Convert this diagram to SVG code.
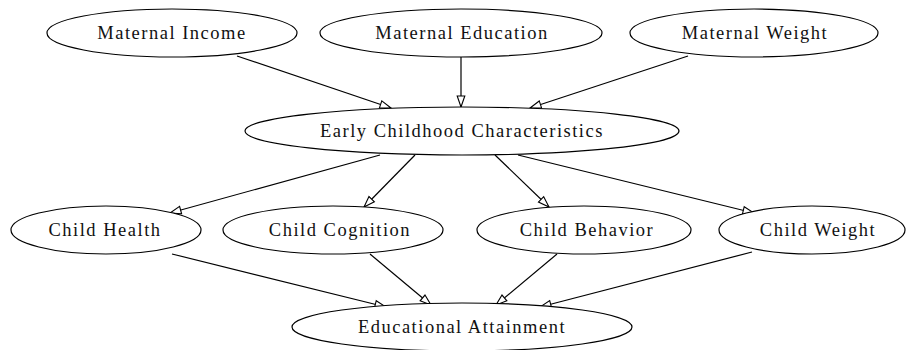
<svg xmlns="http://www.w3.org/2000/svg" width="908" height="350" viewBox="0 0 908 350">
<style>
.node ellipse{fill:#fff;stroke:#000;stroke-width:1.2}
.node text{font-family:'Liberation Serif','Times New Roman',serif;font-size:18.5px;letter-spacing:1.5px;text-anchor:middle;fill:#111}
.edges line{stroke:#000;stroke-width:1.2;marker-end:url(#ah)}
</style>
<defs>
<marker id="ah" markerUnits="userSpaceOnUse" markerWidth="14" markerHeight="10" refX="12" refY="5" orient="auto">
<path d="M1,1.2 L12,5 L1,8.8 Z" fill="#fff" stroke="#000" stroke-width="1.1"/>
</marker>
</defs>
<rect width="908" height="350" fill="#fff"/>
<g class="edges">
<line x1="237" y1="56" x2="391" y2="108"/>
<line x1="461" y1="57" x2="461" y2="107"/>
<line x1="688" y1="56" x2="530" y2="108"/>
<line x1="380" y1="155" x2="170" y2="213"/>
<line x1="415" y1="155" x2="364" y2="207"/>
<line x1="495" y1="155" x2="549" y2="207"/>
<line x1="518" y1="155" x2="754" y2="213"/>
<line x1="172" y1="254" x2="386" y2="307"/>
<line x1="370" y1="254" x2="431" y2="305"/>
<line x1="557" y1="254" x2="496" y2="305"/>
<line x1="752" y1="252" x2="540" y2="307"/>
</g>
<g id="maternal_income" class="node"><ellipse cx="172" cy="33" rx="125" ry="24"/><text x="172" y="39">Maternal Income</text></g>
<g id="maternal_education" class="node"><ellipse cx="461" cy="33" rx="141" ry="24"/><text x="462" y="39">Maternal Education</text></g>
<g id="maternal_weight" class="node"><ellipse cx="754" cy="33" rx="124" ry="24"/><text x="755" y="39">Maternal Weight</text></g>
<g id="early_childhood" class="node"><ellipse cx="462" cy="131" rx="217" ry="24"/><text x="462" y="137">Early Childhood Characteristics</text></g>
<g id="child_health" class="node"><ellipse cx="106" cy="230" rx="95" ry="24"/><text x="105" y="236">Child Health</text></g>
<g id="child_cognition" class="node"><ellipse cx="333" cy="230" rx="110" ry="24"/><text x="340" y="236">Child Cognition</text></g>
<g id="child_behavior" class="node"><ellipse cx="584" cy="230" rx="107" ry="24"/><text x="587" y="236">Child Behavior</text></g>
<g id="child_weight" class="node"><ellipse cx="812" cy="230" rx="93" ry="24"/><text x="818" y="236">Child Weight</text></g>
<g id="educational_attainment" class="node"><ellipse cx="462" cy="327" rx="170" ry="24"/><text x="462" y="333">Educational Attainment</text></g>
</svg>
